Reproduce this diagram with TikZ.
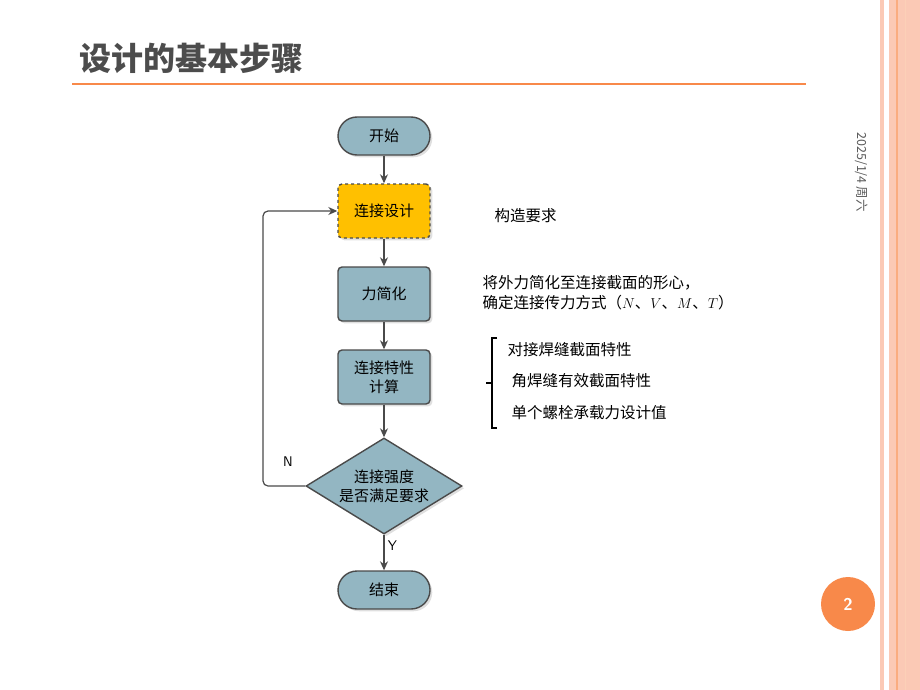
\documentclass[tikz,border=0pt]{standalone}
\usepackage{fontspec}
\setmainfont{Liberation Serif}
\newfontfamily\cjk{Noto Sans CJK SC}
\usetikzlibrary{positioning,arrows.meta,shapes.geometric,calc,shadows}
\definecolor{boxblue}{HTML}{93B6C2}
\definecolor{boxedge}{HTML}{4A4A4A}
\definecolor{hiyel}{HTML}{FFC000}
\definecolor{salmon}{HTML}{FBC9B5}
\definecolor{deeporange}{HTML}{F8894A}
\begin{document}
\begin{tikzpicture}[
    x=1pt, y=-1pt,
    font=\cjk\fontsize{15}{19}\selectfont,
    >={Stealth[length=9pt,width=8pt]},
    stepbox/.style={draw=boxedge, line width=1.4pt, rounded corners=4pt, align=center, fill=boxblue,
      minimum width=92pt, minimum height=54pt, drop shadow={opacity=0.25}},
    term/.style={stepbox, rounded corners=19pt, minimum height=38pt},
    flow/.style={->, draw=boxedge, line width=1.2pt},
    note/.style={anchor=west, font=\cjk\fontsize{15.5}{20}\selectfont}
]
\useasboundingbox (0,0) rectangle (920,690);

% 页面装饰
\fill[salmon] (880,0) rectangle (884,690);
\fill[salmon] (889,0) rectangle (920,690);
\draw[deeporange!70, line width=1.5pt] (897,0) -- (897,690);
\draw[deeporange!40] (905,0) -- (905,690);
\node[anchor=west, text=black!70, font=\cjk\bfseries\fontsize{32}{36}\selectfont] (title) at (76,58) {设计的基本步骤};
\draw[deeporange, line width=1.2pt] (72,84) -- (806,84);
\node[rotate=-90, text=black!65, font=\cjk\fontsize{12.5}{14}\selectfont] (date) at (862,172) {2025/1/4 周六};
\node[circle, fill=deeporange, minimum size=54pt, text=white, font=\sffamily\bfseries\fontsize{17}{19}\selectfont] (page) at (848,604) {2};

% 流程节点
\node[term] (start) at (384,136) {开始};
\node[stepbox, fill=hiyel, dashed] (design) at (384,211) {连接设计};
\node[stepbox] (simplify) at (384,294) {力简化};
\node[stepbox] (calc) at (384,377) {连接特性\\计算};
\node[diamond, aspect=1.6, draw=boxedge, line width=1.4pt, fill=boxblue, align=center, inner sep=0pt,
      minimum width=156pt, minimum height=96pt, drop shadow={opacity=0.25}] (check) at (384,486) {连接强度\\是否满足要求};
\node[term] (finish) at (384,590) {结束};

% 连接箭头
\draw[flow] (start) -- (design);
\draw[flow] (design) -- (simplify);
\draw[flow] (simplify) -- (calc);
\draw[flow] (calc) -- (check);
\draw[flow] (check) -- node[right, pos=0.3, font=\sffamily\fontsize{14}{16}\selectfont] {Y} (finish);
\draw[flow, rounded corners=5pt] (check.west) -- (263,486) -- (263,211) -- (design.west);
\node[font=\sffamily\fontsize{14}{16}\selectfont] (nlabel) at (288,462) {N};

% 说明文字
\node[note] (req) at (491,216) {构造要求};
\node[note, align=left] (force) at (479,293) {将外力简化至连接截面的形心，\\确定连接传力方式（$N$、$V$、$M$、$T$）};
\draw[line width=1.2pt] (497,338) -- (492,338) -- (492,428) -- (497,428);
\draw[line width=1.2pt] (492,383) -- (486,383);
\node[note] (p1) at (504,350) {对接焊缝截面特性};
\node[note] (p2) at (508,381) {角焊缝有效截面特性};
\node[note] (p3) at (508,413) {单个螺栓承载力设计值};
\end{tikzpicture}
\end{document}
